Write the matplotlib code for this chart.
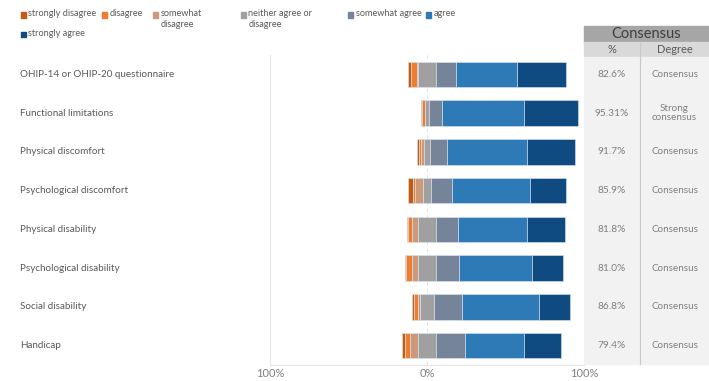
import numpy as np
import matplotlib
matplotlib.use("Agg")
import matplotlib.pyplot as plt
from matplotlib.patches import Rectangle
from matplotlib.transforms import blended_transform_factory

plt.rcParams["font.family"] = ["Lato", "DejaVu Sans"]

# data (percent of respondents per answer level)
items = ["OHIP-14 or OHIP-20 questionnaire", "Functional limitations", "Physical discomfort",
         "Psychological discomfort", "Physical disability", "Psychological disability",
         "Social disability", "Handicap"]
strongly_disagree = [1.5, 1.0, 1.1, 3.2, 0.3, 0.8, 1.1, 1.7]
disagree = [3.8, 1.5, 1.3, 1.2, 2.9, 3.6, 2.6, 3.4]
somewhat_disagree = [0.7, 0.0, 2.1, 5.1, 3.9, 4.3, 1.7, 5.1]
neither = [11.6, 3.0, 3.6, 4.9, 11.2, 11.0, 8.3, 11.0]
somewhat_agree = [12.8, 7.9, 10.8, 13.4, 14.2, 14.7, 18.2, 18.5]
agree = [38.6, 52.6, 51.4, 49.9, 44.0, 46.7, 49.0, 37.8]
strongly_agree = [31.4, 34.4, 30.2, 22.7, 24.2, 19.5, 19.8, 23.8]
consensus_pct = ["82.6%", "95.31%", "91.7%", "85.9%", "81.8%", "81.0%", "86.8%", "79.4%"]
consensus_deg = ["Consensus", "Strong\nconsensus", "Consensus", "Consensus", "Consensus",
                 "Consensus", "Consensus", "Consensus"]

levels = ["strongly disagree", "disagree", "somewhat\ndisagree", "neither agree or\ndisagree",
          "somewhat agree", "agree", "strongly agree"]
colors = ["#c55a11", "#ed7d31", "#cc9a7a", "#a0a0a0", "#76849a", "#2e7ab6", "#0f4a80"]

W, H = 709, 381
fig = plt.figure(figsize=(W / 100, H / 100), dpi=100)
ax = fig.add_axes([270 / W, 1 - 365 / H, 314 / W, 310 / H])

series = np.array([strongly_disagree, disagree, somewhat_disagree, neither,
                   somewhat_agree, agree, strongly_agree])
y = np.arange(len(items))
left = -(series[0] + series[1] + series[2] + series[3] / 2)
for vals, c in zip(series, colors):
    ax.barh(y, vals, left=left, height=0.66, color=c, edgecolor="#dbe6f2", linewidth=0.4, zorder=3)
    left = left + vals

ax.set_xlim(-100, 100)
ax.set_ylim(len(items) - 0.5, -0.5)
ax.axvline(0, color="#e3e3e3", lw=0.8, ls=(0, (3, 3)), zorder=1)
for s in ["top", "right"]:
    ax.spines[s].set_visible(False)
ax.spines["left"].set_color("#e6e6e6")
ax.spines["bottom"].set_color("#e6e6e6")
ax.set_yticks([])
ax.set_xticks([-100, 0, 100])
ax.set_xticklabels(["100%", "0%", "100%"])
ax.tick_params(axis="x", length=0, pad=2, labelsize=8, labelcolor="#7f7f7f")

tr = blended_transform_factory(fig.transFigure, ax.transData)
for i, name in enumerate(items):
    fig.text(20 / W, i, name, transform=tr, ha="left", va="center", fontsize=7.1, color="#595959")

# consensus table
x0, x1, xd = 584 / W, 1.0, 640 / W
fig.patches.append(Rectangle((x0, 1 - 42 / H), x1 - x0, 16 / H, transform=fig.transFigure,
                             color="#a6a6a6", zorder=-1))
fig.patches.append(Rectangle((x0, 1 - 57 / H), x1 - x0, 15 / H, transform=fig.transFigure,
                             color="#d9d9d9", zorder=-1))
fig.patches.append(Rectangle((x0, 1 - 364 / H), x1 - x0, 307 / H, transform=fig.transFigure,
                             color="#f2f2f2", zorder=-1))
fig.add_artist(plt.Line2D([xd, xd], [1 - 364 / H, 1 - 42 / H], transform=fig.transFigure,
                          color="#c8c8c8", lw=0.8))
fig.text((x0 + x1) / 2, 1 - 34 / H, "Consensus", ha="center", va="center", fontsize=10.5, color="#404040")
fig.text((x0 + xd) / 2, 1 - 49.5 / H, "%", ha="center", va="center", fontsize=8, color="#595959")
fig.text((xd + x1) / 2, 1 - 49.5 / H, "Degree", ha="center", va="center", fontsize=8, color="#595959")
for i in range(len(items)):
    fig.text((x0 + xd) / 2, i, consensus_pct[i], transform=tr, ha="center", va="center",
             fontsize=7.3, color="#7f7f7f")
    fig.text((xd + x1) / 2, i, consensus_deg[i], transform=tr, ha="center", va="center",
             fontsize=7.1, color="#7f7f7f", linespacing=1.1)

# legend
leg_pos = [(21, 15), (102, 15), (153, 15), (241, 15), (348, 15), (426, 15), (21, 34.5)]
for (lx, ly), lab, c in zip(leg_pos, levels, colors):
    fig.patches.append(Rectangle((lx / W, 1 - (ly + 2.5) / H), 5 / W, 5 / H,
                                 transform=fig.transFigure, color=c))
    fig.text((lx + 7.5) / W, 1 - (ly - 5.5) / H, lab, ha="left", va="top", fontsize=6.6,
             color="#595959", linespacing=1.2)

fig.savefig("out.png", dpi=100)
